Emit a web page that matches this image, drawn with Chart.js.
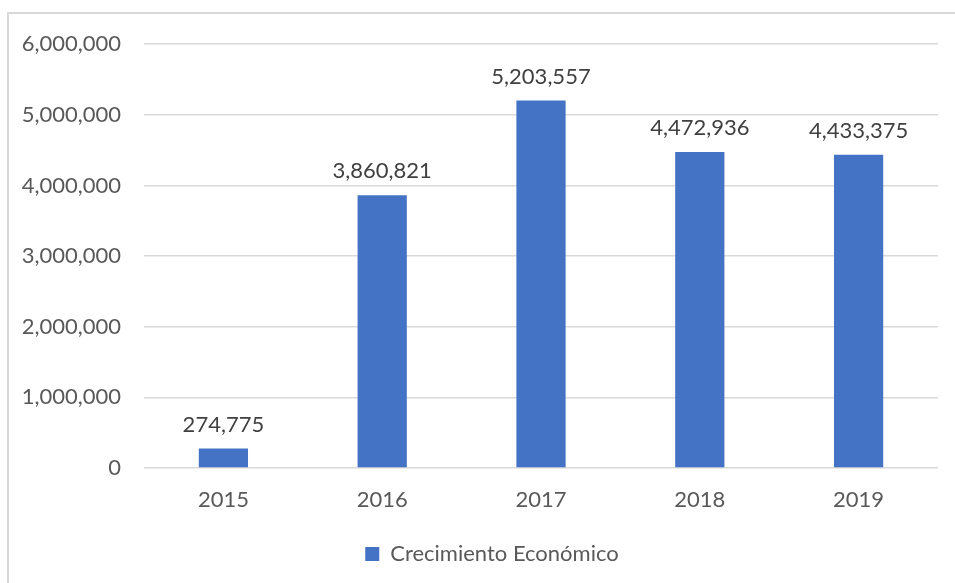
<!DOCTYPE html>
<html>
<head>
<meta charset="utf-8">
<script src="https://cdn.jsdelivr.net/npm/chart.js@4"></script>
<style>
  html, body { margin: 0; padding: 0; background: #fff; overflow: hidden; }
  #frame { position: absolute; left: 7px; top: 12px; width: 966px; height: 600px; border: 2px solid #d9d9d9; }
  #wrap { position: relative; width: 966px; height: 561px; }
</style>
</head>
<body>
<div id="frame"><div id="wrap"><canvas id="chart01"></canvas></div></div>
<script>
const years = ['2015', '2016', '2017', '2018', '2019'];
const crecimiento = [274775, 3860821, 5203557, 4472936, 4433375];
const yTicks = [0, 1000000, 2000000, 3000000, 4000000, 5000000, 6000000];

const ctx1 = document.getElementById('chart01');
const fmt = v => Number(v).toLocaleString('en-US');

// etiquetas de valor encima de cada barra
const valueLabels = {
  id: 'valueLabels',
  afterDatasetsDraw(chart) {
    const c = chart.ctx;
    const meta = chart.getDatasetMeta(0);
    c.save();
    c.font = '22px Lato';
    c.fillStyle = '#404040';
    c.textAlign = 'center';
    c.textBaseline = 'middle';
    meta.data.forEach((bar, i) => {
      c.fillText(fmt(chart.data.datasets[0].data[i]), bar.x, bar.y - 24);
    });
    c.restore();
  }
};

new Chart(ctx1, {
  type: 'bar',
  data: {
    labels: years,
    datasets: [{
      label: 'Crecimiento Económico',
      data: crecimiento,
      backgroundColor: '#4472C4',
      barPercentage: 0.31,
      categoryPercentage: 1
    }]
  },
  options: {
    responsive: true,
    maintainAspectRatio: false,
    animation: false,
    layout: { padding: { top: 10, right: 0, left: 0, bottom: 0 } },
    scales: {
      x: {
        grid: { display: false },
        border: { display: false },
        ticks: { color: '#595959', font: { family: 'Lato', size: 22 }, padding: 11 },
        afterFit(scale) { scale.height = 65; }
      },
      y: {
        min: 0,
        max: 6000000,
        afterBuildTicks(scale) { scale.ticks = yTicks.map(v => ({ value: v })); },
        grid: { color: '#d9d9d9', lineWidth: 1.5, tickLength: 6, tickColor: 'rgba(0,0,0,0)' },
        border: { display: false },
        ticks: { color: '#595959', font: { family: 'Lato', size: 22 }, padding: 17, callback: v => fmt(v) },
        afterFit(scale) { scale.width = 135; }
      },
      // margen derecho vacío
      yRight: {
        position: 'right',
        grid: { display: false },
        border: { display: false },
        ticks: { display: false },
        afterFit(scale) { scale.width = 37; }
      }
    },
    plugins: {
      legend: {
        position: 'bottom',
        labels: { color: '#595959', font: { family: 'Lato', size: 22 }, boxWidth: 14, boxHeight: 14, padding: 10 }
      },
      tooltip: { enabled: false }
    }
  },
  plugins: [valueLabels]
});
</script>
</body>
</html>
